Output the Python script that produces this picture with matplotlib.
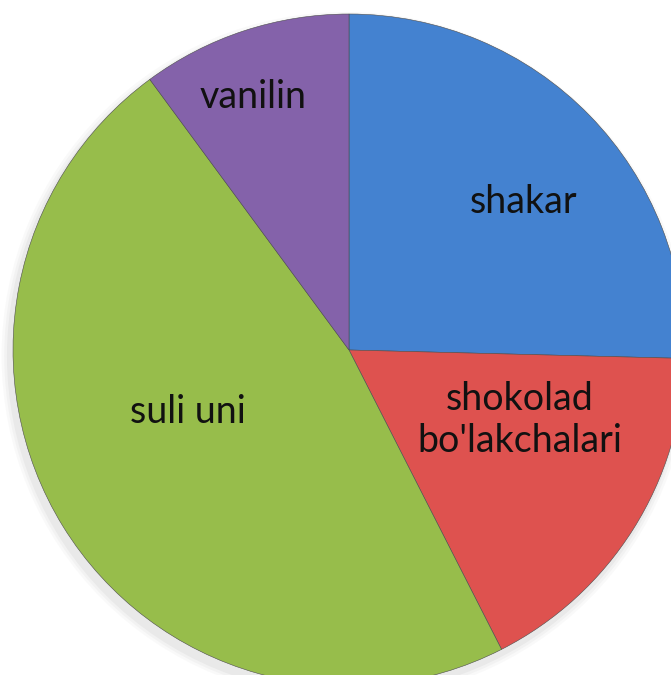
import matplotlib.pyplot as plt
from matplotlib.patches import Circle

# Data
labels = ['shakar', "shokolad\nbo'lakchalari", 'suli uni', 'vanilin']
values = [25.4, 17.1, 47.4, 10.1]
colors = ['#4482D0', '#DE524F', '#97BD4B', '#8462AA']

# label positions (pixels in the original picture)
label_px = [(524, 202), (520, 420), (188, 412), (253, 97)]

W, H = 671, 675
cx, cy, r = 349, 350, 336  # pie centre and radius in pixels

fig = plt.figure(figsize=(W / 100, H / 100), dpi=100)
ax = fig.add_axes([0, 0, 1, 1])

# soft shadow behind the pie (lower left)
for i, a in enumerate([0.04, 0.05, 0.07]):
    ax.add_patch(Circle((-0.01, -0.018), 1.0 + 0.008 * (3 - i), color='#777777',
                        alpha=a, lw=0, zorder=0))

wedges, _ = ax.pie(values, colors=colors, startangle=90, counterclock=False,
                   radius=1.0, wedgeprops=dict(edgecolor='#4d4d4d', linewidth=0.4))

for lab, (px, py) in zip(labels, label_px):
    ax.text((px - cx) / r, (cy - py) / r, lab, ha='center', va='center',
            fontsize=27, family=['Lato', 'DejaVu Sans'], color='#111111',
            linespacing=1.2)

ax.set_xlim((0 - cx) / r, (W - cx) / r)
ax.set_ylim((cy - H) / r, cy / r)
ax.set_aspect('auto')
ax.axis('off')

fig.savefig('out.png', dpi=100)
